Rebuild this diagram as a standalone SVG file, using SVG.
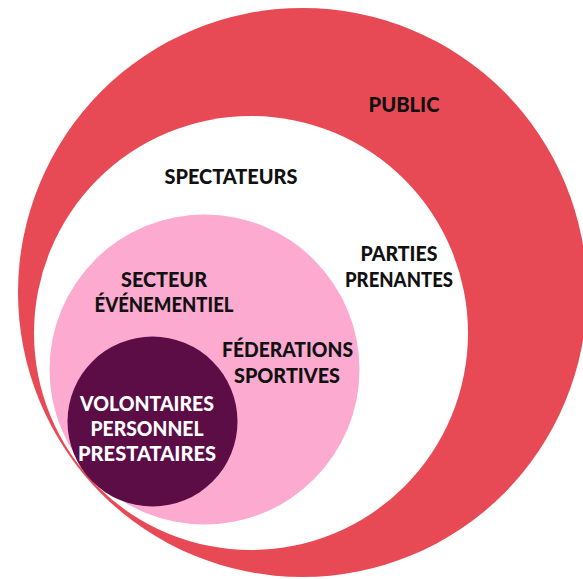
<svg xmlns="http://www.w3.org/2000/svg" width="583" height="579" viewBox="0 0 583 579">
<style>
.lbl{font-family:Lato,"Open Sans","Liberation Sans",sans-serif;font-weight:900;font-size:21px;text-anchor:middle;fill:#111}
.w{fill:#ffffff}
</style>
<rect width="583" height="579" fill="#ffffff"/>
<g id="public">
<circle cx="302.5" cy="292.5" r="284.5" fill="#E84A55"/>
<text class="lbl" x="404" y="112" textLength="71" lengthAdjust="spacingAndGlyphs">PUBLIC</text>
</g>
<g id="spectateurs">
<circle cx="251" cy="333" r="217" fill="#ffffff"/>
<text class="lbl" x="231" y="184" textLength="133" lengthAdjust="spacingAndGlyphs">SPECTATEURS</text>
</g>
<g id="parties-prenantes">
<text class="lbl" x="399" y="261" textLength="77" lengthAdjust="spacingAndGlyphs">PARTIES</text>
<text class="lbl" x="399" y="287" textLength="108" lengthAdjust="spacingAndGlyphs">PRENANTES</text>
</g>
<g id="secteur">
<circle cx="204.5" cy="369.5" r="155" fill="#FCAAD0"/>
<text class="lbl" x="164" y="287" textLength="86" lengthAdjust="spacingAndGlyphs">SECTEUR</text>
<text class="lbl" x="164" y="312" textLength="139" lengthAdjust="spacingAndGlyphs">ÉVÉNEMENTIEL</text>
</g>
<g id="federations">
<text class="lbl" x="287.5" y="357" textLength="131" lengthAdjust="spacingAndGlyphs">FÉDERATIONS</text>
<text class="lbl" x="287" y="383" textLength="106" lengthAdjust="spacingAndGlyphs">SPORTIVES</text>
</g>
<g id="volontaires">
<circle cx="152.5" cy="421.5" r="85" fill="#5C0D46"/>
<text class="lbl w" x="147" y="411" textLength="134" lengthAdjust="spacingAndGlyphs">VOLONTAIRES</text>
<text class="lbl w" x="147" y="436" textLength="113" lengthAdjust="spacingAndGlyphs">PERSONNEL</text>
<text class="lbl w" x="147" y="461" textLength="138" lengthAdjust="spacingAndGlyphs">PRESTATAIRES</text>
</g>
<g id="connectors"/>
</svg>
